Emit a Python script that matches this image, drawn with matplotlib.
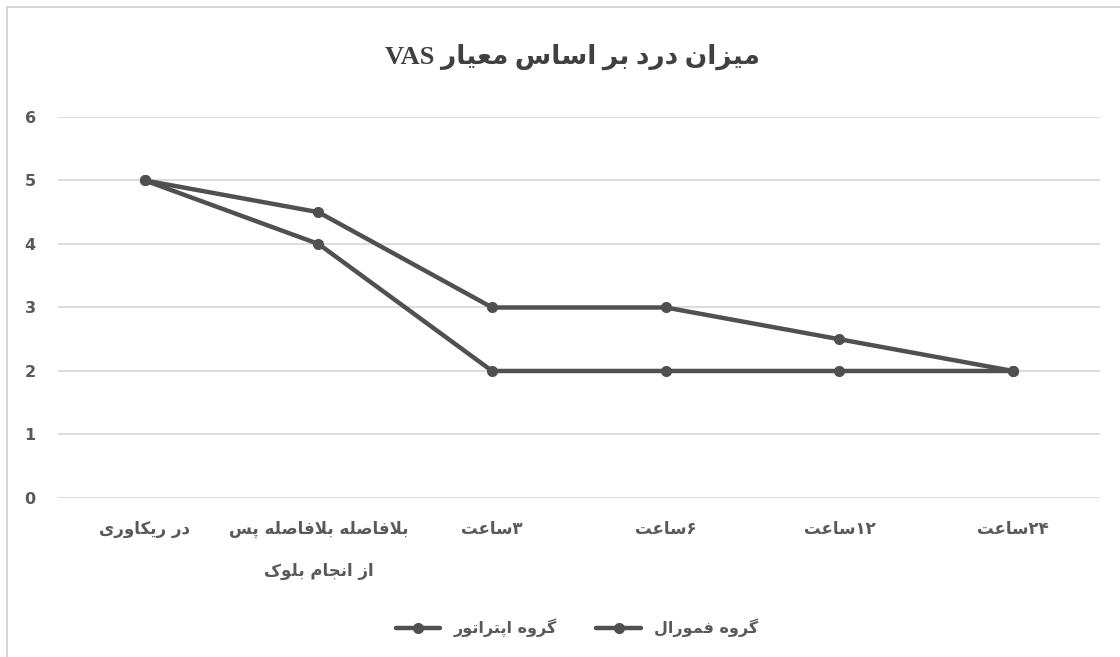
# میزان درد بر اساس معیار VAS - دو گروه

import matplotlib.pyplot as plt
from matplotlib.patches import Rectangle

# داده ها
categories = ['در ریکاوری', 'بلافاصله بلافاصله پس\nاز انجام بلوک', '۳ساعت',
              '۶ساعت', '۱۲ساعت', '۲۴ساعت']
femoral = [5, 4.5, 3, 3, 2.5, 2]
obturator = [5, 4, 2, 2, 2, 2]
series_names = ['گروه فمورال', 'گروه اپتراتور']
title = 'میزان درد بر اساس معیار VAS'

# matplotlib has no arabic shaping, so do it by hand with presentation forms
# (isolated, final, initial, medial); right-joining letters have only 2
FORMS = {
    'ا': (0xFE8D, 0xFE8E), 'د': (0xFEA9, 0xFEAA), 'ر': (0xFEAD, 0xFEAE),
    'ز': (0xFEAF, 0xFEB0), 'و': (0xFEED, 0xFEEE),
    'ب': (0xFE8F, 0xFE90, 0xFE91, 0xFE92), 'ت': (0xFE95, 0xFE96, 0xFE97, 0xFE98),
    'ج': (0xFE9D, 0xFE9E, 0xFE9F, 0xFEA0), 'س': (0xFEB1, 0xFEB2, 0xFEB3, 0xFEB4),
    'ص': (0xFEB9, 0xFEBA, 0xFEBB, 0xFEBC), 'ع': (0xFEC9, 0xFECA, 0xFECB, 0xFECC),
    'ف': (0xFED1, 0xFED2, 0xFED3, 0xFED4), 'ل': (0xFEDD, 0xFEDE, 0xFEDF, 0xFEE0),
    'م': (0xFEE1, 0xFEE2, 0xFEE3, 0xFEE4), 'ن': (0xFEE5, 0xFEE6, 0xFEE7, 0xFEE8),
    'ه': (0xFEE9, 0xFEEA, 0xFEEB, 0xFEEC), 'ی': (0xFBFC, 0xFBFD, 0xFBFE, 0xFBFF),
    'ک': (0xFB8E, 0xFB8F, 0xFB90, 0xFB91), 'گ': (0xFB92, 0xFB93, 0xFB94, 0xFB95),
    'پ': (0xFB56, 0xFB57, 0xFB58, 0xFB59),
}
LAM_ALEF = (0xFEFB, 0xFEFC)


def shape(word):
    # merge lam + alef first
    chars = []
    i = 0
    while i < len(word):
        if word[i] == 'ل' and i + 1 < len(word) and word[i + 1] == 'ا':
            chars.append('LA')
            i += 2
        else:
            chars.append(word[i])
            i += 1

    def forms(c):
        return LAM_ALEF if c == 'LA' else FORMS.get(c)

    out = []
    for k, c in enumerate(chars):
        f = forms(c)
        if f is None:
            out.append(c)
            continue
        prev = forms(chars[k - 1]) if k > 0 else None
        nxt = forms(chars[k + 1]) if k + 1 < len(chars) else None
        join_prev = prev is not None and len(prev) == 4
        join_next = nxt is not None and len(f) == 4
        if join_prev and join_next:
            out.append(chr(f[3]))
        elif join_prev:
            out.append(chr(f[1]))
        elif join_next:
            out.append(chr(f[2]))
        else:
            out.append(chr(f[0]))
    return out


def fa(text):
    lines = []
    for line in text.split('\n'):
        shaped = shape(line)
        # runs: latin letters and digits stay left-to-right
        runs = []
        for ch in shaped:
            ltr = ch.isascii() and ch.isalnum() or ch in '۰۱۲۳۴۵۶۷۸۹'
            if runs and runs[-1][0] == ltr:
                runs[-1][1].append(ch)
            else:
                runs.append([ltr, [ch]])
        vis = ''
        for ltr, chs in reversed(runs):
            vis += ''.join(chs) if ltr else ''.join(reversed(chs))
        lines.append(vis)
    return '\n'.join(lines)


grey = '#505050'
text_grey = '#595959'

fig = plt.figure(figsize=(11.2, 6.57), dpi=100)
ax = fig.add_axes([0.0518, 0.242, 0.9302, 0.58])

x = range(len(categories))
for vals, name in zip([femoral, obturator], series_names):
    ax.plot(x, vals, color=grey, linewidth=3.2, marker='o', markersize=7,
            solid_capstyle='round', label=fa(name))

ax.set_xlim(-0.5, len(categories) - 0.5)
ax.set_ylim(0, 6)
ax.set_yticks(range(0, 7))
ax.set_xticks(list(x))
ax.set_xticklabels([fa(c) for c in categories], fontsize=12, fontweight='bold',
                   color=text_grey, linespacing=2.7)
ax.tick_params(axis='both', length=0)
ax.tick_params(axis='x', pad=16)
ax.tick_params(axis='y', pad=16, labelsize=11.5, labelcolor=text_grey)
for lab in ax.get_yticklabels():
    lab.set_fontweight('bold')
ax.grid(axis='y', color='#d9d9d9', linewidth=1.3)
ax.set_axisbelow(True)
for s in ax.spines.values():
    s.set_visible(False)

fig.text(0.511, 0.913, fa(title), ha='center', va='center', fontsize=19,
         fontweight='bold', color='#404040',
         family=['Liberation Serif', 'DejaVu Sans'])

handles, labels = ax.get_legend_handles_labels()
leg = fig.legend(handles[::-1], labels[::-1], loc='center', bbox_to_anchor=(0.515, 0.044),
                 ncol=2, frameon=False, fontsize=11.5, handlelength=2.8,
                 columnspacing=2.5, markerfirst=True)
for t in leg.get_texts():
    t.set_fontweight('bold')
    t.set_color(text_grey)

fig.patches.append(Rectangle((7 / 1120, -0.05), 1.2, 1 - 7 / 657 + 0.05,
                             transform=fig.transFigure, fill=False,
                             edgecolor='#d0d0d0', linewidth=1.2))

fig.savefig('out.png', dpi=100)
